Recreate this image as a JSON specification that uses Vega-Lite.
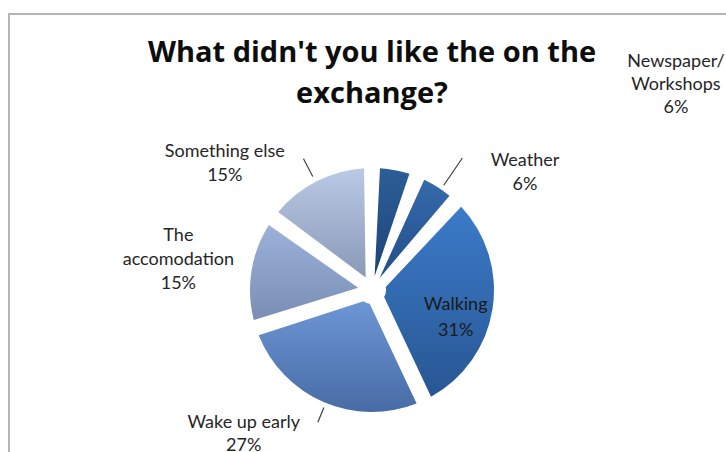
{
  "$schema": "https://vega.github.io/schema/vega-lite/v6.json",
  "width": 726,
  "height": 552,
  "autosize": {"type": "none"},
  "padding": {"left": 9, "top": 14, "right": 0, "bottom": 0},
  "background": "white",
  "view": {"stroke": "#b5b5b5", "strokeWidth": 2},
  "config": {"view": {"stroke": "#b5b5b5", "strokeWidth": 2}},
  "title": {
    "text": ["What didn't you like the on the", "exchange?"],
    "font": "Open Sans",
    "fontSize": 29,
    "fontWeight": "bold",
    "color": "#0d0d0d",
    "anchor": "middle",
    "frame": "group",
    "baseline": "top",
    "lineHeight": 41,
    "offset": 0,
    "dy": 95
  },
  "data": {
    "values": [
      {"rank": 1, "category": "Newspaper/Workshops", "pct": 6, "label": "Newspaper/\nWorkshops\n6%"},
      {"rank": 2, "category": "Weather", "pct": 6, "label": "Weather\n6%"},
      {"rank": 3, "category": "Walking", "pct": 31, "label": "Walking\n31%"},
      {"rank": 4, "category": "Wake up early", "pct": 27, "label": "Wake up early\n27%"},
      {"rank": 5, "category": "The accomodation", "pct": 15, "label": "The\naccomodation\n15%"},
      {"rank": 6, "category": "Something else", "pct": 15, "label": "Something else\n15%"}
    ]
  },
  "transform": [
    {"stack": "pct", "groupby": [], "sort": [{"field": "rank", "order": "ascending"}], "as": ["v0", "v1"]}
  ],
  "encoding": {
    "theta": {"field": "v0", "type": "quantitative", "scale": {"domain": [0, 100]}}
  },
  "layer": [
    {
      "mark": {"type": "arc", "outerRadius": 122, "innerRadius": 14, "padAngle": 0.13},
      "encoding": {
        "theta2": {"field": "v1"},
        "fill": {
          "condition": [
            {"test": "datum.category === 'Newspaper/Workshops'", "value": {"gradient": "linear", "x1": 0, "y1": 0, "x2": 0, "y2": 1, "stops": [{"offset": 0, "color": "#2e5d97"}, {"offset": 1, "color": "#1b4579"}]}},
            {"test": "datum.category === 'Weather'", "value": {"gradient": "linear", "x1": 0, "y1": 0, "x2": 0, "y2": 1, "stops": [{"offset": 0, "color": "#356aac"}, {"offset": 1, "color": "#234e88"}]}},
            {"test": "datum.category === 'Walking'", "value": {"gradient": "linear", "x1": 0, "y1": 0, "x2": 0, "y2": 1, "stops": [{"offset": 0, "color": "#3b7bc9"}, {"offset": 1, "color": "#285693"}]}},
            {"test": "datum.category === 'Wake up early'", "value": {"gradient": "linear", "x1": 0, "y1": 0, "x2": 0, "y2": 1, "stops": [{"offset": 0, "color": "#6d96d5"}, {"offset": 1, "color": "#476ca5"}]}},
            {"test": "datum.category === 'The accomodation'", "value": {"gradient": "linear", "x1": 0, "y1": 0, "x2": 0, "y2": 1, "stops": [{"offset": 0, "color": "#9cb2da"}, {"offset": 1, "color": "#7a8eb4"}]}},
            {"test": "datum.category === 'Something else'", "value": {"gradient": "linear", "x1": 0, "y1": 0, "x2": 0, "y2": 1, "stops": [{"offset": 0, "color": "#bac9e4"}, {"offset": 1, "color": "#8999b8"}]}}
          ],
          "value": "#5b84c4"
        }
      }
    },
    {
      "transform": [{"filter": "datum.category === 'Weather'"}],
      "mark": {"type": "arc", "outerRadius": 160, "innerRadius": 127, "padAngle": 3, "thetaOffset": 0.07, "fill": null, "stroke": "#404040", "strokeWidth": 1.2},
      "encoding": {"theta2": {"field": "v1"}}
    },
    {
      "transform": [{"filter": "datum.category === 'Something else'"}],
      "mark": {"type": "arc", "outerRadius": 148, "innerRadius": 128, "padAngle": 3, "thetaOffset": -0.02, "fill": null, "stroke": "#404040", "strokeWidth": 1.2},
      "encoding": {"theta2": {"field": "v1"}}
    },
    {
      "transform": [{"filter": "datum.category === 'Wake up early'"}],
      "mark": {"type": "arc", "outerRadius": 143, "innerRadius": 127, "padAngle": 3, "thetaOffset": -0.04, "fill": null, "stroke": "#404040", "strokeWidth": 1.2},
      "encoding": {"theta2": {"field": "v1"}}
    },
    {
      "transform": [{"filter": "datum.category === 'Newspaper/Workshops'"}],
      "mark": {"type": "text", "radius": 380, "thetaOffset": 0.927, "font": "Lato", "fontSize": 18, "lineHeight": 23, "lineBreak": "\n", "align": "center", "baseline": "middle", "color": "#262626"},
      "encoding": {"text": {"field": "label"}}
    },
    {
      "transform": [{"filter": "datum.category === 'Weather'"}],
      "mark": {"type": "text", "radius": 200, "thetaOffset": 0.494, "font": "Lato", "fontSize": 18, "lineHeight": 24, "lineBreak": "\n", "align": "center", "baseline": "middle", "color": "#262626"},
      "encoding": {"text": {"field": "label"}}
    },
    {
      "transform": [{"filter": "datum.category === 'Walking'"}],
      "mark": {"type": "text", "radius": 85, "thetaOffset": 0.993, "font": "Lato", "fontSize": 18, "lineHeight": 26, "lineBreak": "\n", "align": "center", "baseline": "middle", "color": "#1a1a1a"},
      "encoding": {"text": {"field": "label"}}
    },
    {
      "transform": [{"filter": "datum.category === 'Wake up early'"}],
      "mark": {"type": "text", "radius": 185, "thetaOffset": 1.206, "font": "Lato", "fontSize": 18, "lineHeight": 23, "lineBreak": "\n", "align": "center", "baseline": "middle", "color": "#262626"},
      "encoding": {"text": {"field": "label"}}
    },
    {
      "transform": [{"filter": "datum.category === 'The accomodation'"}],
      "mark": {"type": "text", "radius": 201, "thetaOffset": 0.586, "font": "Lato", "fontSize": 18, "lineHeight": 24, "lineBreak": "\n", "align": "center", "baseline": "middle", "color": "#262626"},
      "encoding": {"text": {"field": "label"}}
    },
    {
      "transform": [{"filter": "datum.category === 'Something else'"}],
      "mark": {"type": "text", "radius": 202, "thetaOffset": 0.126, "font": "Lato", "fontSize": 18, "lineHeight": 24, "lineBreak": "\n", "align": "center", "baseline": "middle", "color": "#262626"},
      "encoding": {"text": {"field": "label"}}
    }
  ]
}
